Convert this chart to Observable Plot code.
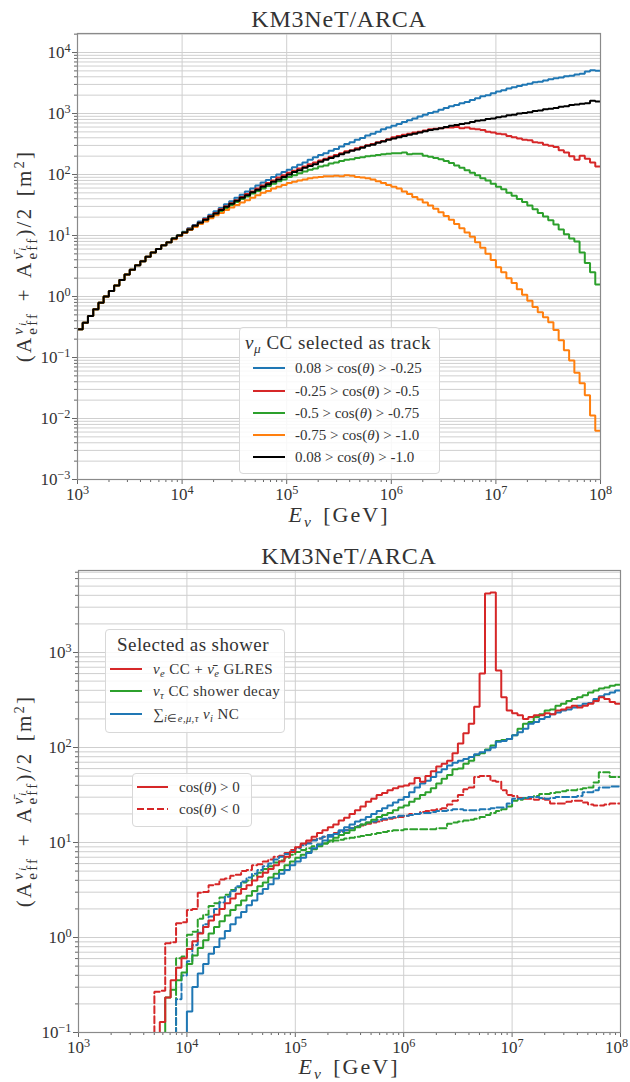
<!DOCTYPE html>
<html><head><meta charset="utf-8">
<script src="https://cdn.jsdelivr.net/npm/d3@7"></script>
<script src="https://cdn.jsdelivr.net/npm/@observablehq/plot@0.6"></script>
<style>
body{margin:0;background:#fff;}
#wrap{position:relative;width:630px;height:1082px;overflow:hidden;font-family:"Liberation Serif",serif;color:#333;}
#wrap svg.panel{position:absolute;left:0;}
#wrap svg.panel text{font-family:"Liberation Serif",serif !important;}
.c{position:absolute;transform:translate(-50%,-50%);white-space:nowrap;}
.l{position:absolute;transform:translateY(-50%);white-space:nowrap;}
.ylab{position:absolute;transform:translate(-50%,-50%) rotate(-90deg);white-space:nowrap;font-size:21px;letter-spacing:2.2px;word-spacing:3px;}
.ss{display:inline-flex;flex-direction:column;font-size:15px;line-height:14px;vertical-align:8px;margin-left:1px;}
sub{font-size:0.7em;vertical-align:-0.3em;line-height:0;}
sup{font-size:0.7em;vertical-align:0.5em;line-height:0;}
.box{position:absolute;background:rgba(255,255,255,0.85);border:1px solid #d8d8d8;border-radius:4px;}
.xl{word-spacing:3px;letter-spacing:2px;}
.tt{letter-spacing:0.8px;}
</style></head>
<body><div id="wrap"></div>
<script>
// ---------------- DATA ----------------
const titleText = "KM3NeT/ARCA";
const xTickExps = [3, 4, 5, 6, 7, 8];
const yTopTickExps = [-3, -2, -1, 0, 1, 2, 3, 4];
const yBotTickExps = [-1, 0, 1, 2, 3];

// Top panel: nu_mu CC selected as track, 20 bins per decade from 1e3 to 1e8 (m^2)
const trackBlue = [0.29,0.37,0.48,0.62,0.79,1.0,1.23,1.51,1.86,2.29,2.75,3.24,3.80,4.47,5.25,6.03,6.92,7.76,8.91,10.0,
11.5,13.2,14.8,17.0,19.1,21.9,25.1,28.2,32.4,36.3,41.7,46.8,52.5,58.9,66.1,74.1,81.3,91.2,100,110,
120,132,145,158,174,191,209,224,245,263,288,316,339,372,398,437,468,501,550,589,
631,676,724,776,832,891,955,1020,1070,1150,1230,1320,1380,1480,1550,1660,1780,1910,2000,2140,
2290,2400,2570,2690,2820,2950,3090,3240,3310,3470,3630,3800,3890,4070,4170,4370,4470,4900,5130,5010];
const trackRed = [0.29,0.37,0.48,0.62,0.79,1.0,1.23,1.51,1.86,2.29,2.75,3.24,3.80,4.47,5.25,6.03,6.92,7.76,8.91,10.0,
11.2,12.9,14.5,16.2,18.6,20.9,23.4,26.9,30.2,33.9,38.0,42.7,47.9,52.5,58.9,66.1,72.4,79.4,89.1,97.7,
107,115,126,135,148,158,170,182,195,209,224,240,251,269,282,302,316,339,355,380,
407,427,447,468,490,501,525,550,562,575,589,589,603,575,589,562,550,537,501,490,
468,457,427,407,389,372,363,339,331,309,295,282,251,229,200,174,204,182,158,135];
const trackGreen = [0.29,0.37,0.48,0.62,0.79,1.0,1.23,1.51,1.86,2.29,2.75,3.24,3.80,4.47,5.25,6.03,6.92,7.76,8.91,10.0,
11.2,12.6,14.1,15.8,17.8,20.0,22.4,25.1,28.2,31.6,35.5,39.8,43.7,49.0,53.7,58.9,64.6,70.8,77.6,83.2,
91.2,97.7,105,112,120,126,135,141,151,158,166,174,178,186,191,200,204,209,214,219,
224,224,229,214,219,219,204,195,186,178,166,155,141,129,117,107,97.7,87.1,79.4,70.8,
63.1,57.5,50.1,44.7,39.8,35.5,30.9,26.9,23.4,20.4,17.8,15.1,12.6,10.5,8.91,7.94,5.25,3.55,2.51,1.58];
const trackOrange = [0.29,0.37,0.48,0.62,0.79,1.0,1.23,1.51,1.86,2.29,2.75,3.24,3.80,4.47,5.25,6.03,6.92,7.76,8.71,9.8,
11.0,12.3,13.8,15.5,17.0,19.1,21.4,23.4,26.3,28.8,31.6,34.7,38.0,41.7,45.7,50.1,53.7,58.9,63.1,67.6,
72.4,75.9,79.4,83.2,87.1,89.1,91.2,93.3,93.3,95.5,93.3,97.7,95.5,91.2,89.1,87.1,83.2,77.6,72.4,67.6,
63.1,58.9,52.5,47.9,42.7,38.9,34.7,30.9,27.5,24.0,20.9,18.2,15.5,13.2,11.2,9.55,7.76,6.31,5.01,3.98,
3.02,2.51,2.0,1.66,1.32,1.07,0.851,0.676,0.550,0.457,0.380,0.282,0.191,0.132,0.0891,0.0562,0.0380,0.0240,0.0112,0.0063];
const trackBlack = [0.29,0.37,0.48,0.62,0.79,1.0,1.23,1.51,1.86,2.29,2.75,3.24,3.80,4.47,5.25,6.03,6.92,7.76,8.91,10.0,
11.2,12.6,14.5,16.2,18.2,20.4,22.9,26.3,29.5,33.1,37.2,41.7,45.7,51.3,56.2,63.1,69.2,75.9,83.2,91.2,
100,110,117,129,138,148,162,174,186,200,214,229,245,257,275,295,309,331,347,372,
389,407,427,447,468,490,513,537,550,575,603,631,646,676,692,724,759,776,813,832,
871,891,933,955,1000,1020,1050,1100,1120,1170,1200,1230,1290,1320,1380,1410,1450,1480,1620,1580];

// Bottom panel: selected as shower (null = empty bin)
const nueUp = [null,null,null,null,null,null,null,null,null,null,null,null,null,null,null,
0.129,0.234,0.355,0.479,0.603,0.759,0.912,1.10,1.29,1.51,
1.74,2.00,2.29,2.57,2.88,3.24,3.55,3.98,4.37,4.79,
5.25,5.75,6.31,7.08,7.94,8.91,9.77,10.5,11.5,12.6,
13.5,14.5,15.5,17.0,18.2,20.0,21.9,24.0,26.9,28.8,
31.6,33.1,35.5,37.2,38.9,39.8,41.7,47.9,43.7,50.1,
56.2,63.1,67.6,72.4,87.1,110,141,178,269,603,
4170,4270,646,339,245,229,219,200,209,219,
219,229,224,245,251,263,275,263,275,288,
309,339,324,302,288];
const nutauUp = [null,null,null,null,null,null,null,null,null,null,null,null,null,null,null,null,
0.234,0.282,0.355,0.427,0.525,0.646,0.776,0.933,1.10,1.29,
1.48,1.70,1.95,2.19,2.45,2.75,3.09,3.47,3.80,4.27,
4.68,5.13,5.75,6.31,6.92,7.41,7.94,8.51,9.12,9.77,
10.5,11.2,12.0,12.6,13.5,14.5,15.5,16.2,17.4,18.6,
19.5,20.4,21.9,23.4,24.5,26.9,28.8,31.6,33.9,37.2,
41.7,46.8,51.3,58.9,60.3,67.6,72.4,83.2,87.1,95.5,
105,117,120,123,135,158,178,186,209,224,
245,251,275,288,309,324,339,355,380,398,
417,427,447,457];
const ncUp = [null,null,null,null,null,null,null,null,null,null,null,null,null,null,null,null,null,null,null,null,
0.166,0.302,0.417,0.525,0.676,0.794,0.977,1.17,1.38,1.62,
1.86,2.19,2.45,2.88,3.24,3.63,4.17,4.68,5.13,5.75,
6.31,6.92,7.76,8.71,9.55,10.5,11.5,12.3,13.5,14.5,
15.5,16.6,17.4,18.6,20.0,21.4,22.9,24.5,26.3,28.2,
30.2,33.9,38.0,41.7,44.7,49.0,55.0,58.9,64.6,69.2,
72.4,75.9,79.4,85.1,89.1,93.3,100,115,117,123,
135,145,158,178,186,200,209,224,234,245,
251,263,275,288,295,324,347,363,380,398];
const nueDown = [null,null,null,null,null,null,null,null,null,null,null,null,null,null,
0.269,0.275,0.871,0.891,1.41,1.45,1.95,2.00,2.95,3.02,
3.55,3.63,4.07,4.17,4.47,4.57,5.01,5.13,5.75,5.89,
6.31,6.61,7.08,7.24,7.76,8.32,8.91,9.55,10.0,10.7,
11.0,11.5,12.0,12.6,13.2,13.5,14.1,14.8,15.1,15.8,
16.2,16.6,17.4,17.8,18.2,18.6,19.1,20.0,20.0,20.9,
21.4,21.9,22.4,22.9,25.1,27.5,31.6,36.3,38.0,49.0,
50.1,50.1,44.7,43.7,35.5,31.6,30.9,29.5,28.8,28.8,
28.2,28.8,28.2,25.7,25.7,25.7,26.9,27.5,27.5,26.3,
25.1,24.5,24.5,25.1,25.7,25.7];
const nutauDown = [null,null,null,null,null,null,null,null,null,null,null,null,null,null,null,null,null,null,
0.603,0.631,1.07,1.15,1.58,1.74,2.14,2.29,2.63,2.82,
3.16,3.39,3.80,3.98,4.47,4.79,5.25,5.62,6.17,6.46,
6.92,7.41,7.94,8.32,8.71,9.12,9.55,9.77,10.2,10.5,
10.7,11.0,11.2,11.5,11.7,12.0,12.3,12.6,12.9,13.2,
13.5,13.5,13.8,13.8,13.8,13.8,13.8,13.8,14.1,14.1,
15.8,16.2,16.6,17.0,17.4,17.8,18.6,19.5,20.4,21.4,
22.4,24.0,27.5,28.2,29.5,30.2,30.9,32.4,32.4,33.1,
33.9,34.7,35.5,35.5,36.3,37.2,38.0,42.7,55.0,55.0,
49.0,49.0];
const ncDown = [null,null,null,null,null,null,null,null,null,null,null,null,null,null,null,null,null,null,
0.224,0.398,0.562,0.832,1.12,1.38,1.66,2.00,2.34,2.69,
3.09,3.47,3.89,4.27,4.68,5.13,5.62,6.03,6.61,7.08,
7.59,8.13,8.71,9.33,9.77,10.5,11.0,11.5,12.0,12.3,
12.9,13.5,14.1,14.8,15.5,16.2,16.6,17.4,17.8,18.2,
18.6,19.1,19.1,19.5,20.0,20.4,20.4,20.9,21.4,21.4,
21.9,22.4,22.4,21.9,21.9,21.9,22.4,22.4,22.9,23.4,
23.4,25.7,28.8,28.8,29.5,30.2,30.2,29.5,28.8,29.5,
30.2,30.2,30.2,30.2,30.9,33.9,33.9,35.5,38.0,38.0,
38.9,38.9];

const trackLegendTitle = '<i>ν</i><sub><i>μ</i></sub> CC selected as track';
const trackLabels = ['0.08 &gt; cos(<i>θ</i>) &gt; -0.25','-0.25 &gt; cos(<i>θ</i>) &gt; -0.5','-0.5 &gt; cos(<i>θ</i>) &gt; -0.75','-0.75 &gt; cos(<i>θ</i>) &gt; -1.0','0.08 &gt; cos(<i>θ</i>) &gt; -1.0'];
const showerLegendTitle = 'Selected as shower';
const showerLabels = ['<i>ν</i><sub><i>e</i></sub> CC + <i>ν̄</i><sub><i>e</i></sub> GLRES','<i>ν</i><sub><i>τ</i></sub> CC shower decay','∑<sub><i>i</i>∈<i>e</i>,<i>μ</i>,<i>τ</i></sub> <i>ν</i><sub><i>i</i></sub> NC'];
const dirLabels = ['cos(<i>θ</i>) &gt; 0','cos(<i>θ</i>) &lt; 0'];

(function () {
// ---------------- STYLE ----------------
const C = {blue:"#1f77b4", red:"#d62728", green:"#2ca02c", orange:"#ff7f0e", black:"#000000"};
const LOG_E_MIN = 3, BINS_PER_DECADE = 20, N_BINS = 100;
const edges = d3.range(N_BINS + 1).map(k => 10 ** (LOG_E_MIN + k / BINS_PER_DECADE));
const FLOOR = 1e-6;
const SERIF = '"Liberation Serif", serif';

[trackBlue,trackRed,trackGreen,trackOrange,trackBlack,nueUp,nutauUp,ncUp,nueDown,nutauDown,ncDown].forEach((a,i)=>{
  if (a.length !== N_BINS) throw new Error("series " + i + " has length " + a.length);
});

function stepPoints(values) {
  const pts = values.map((v, k) => ({x: edges[k], y: v == null ? FLOOR : v}));
  pts.push({x: edges[N_BINS], y: values[N_BINS - 1] == null ? FLOOR : values[N_BINS - 1]});
  return pts;
}
const fmtPow = e => "10^" + String(e).replace("-", "\u2212");
const xMajor = xTickExps.map(e => 10 ** e);
const xMinor = [];
for (const e of xTickExps.slice(0, -1)) for (let m = 2; m <= 9; m++) xMinor.push(m * 10 ** e);
function yMinorTicks(exps, topV) {
  const out = [];
  for (const e of exps) for (let m = 2; m <= 9; m++) { const v = m * 10 ** e; if (v < topV * 0.98) out.push(v); }
  return out;
}

function panel({height, mt, mb, ml, mr, yDomain, yExps, lines, lastXShift}) {
  const yMajor = yExps.map(e => 10 ** e);
  const yMinor = yMinorTicks(yExps, yDomain[1]);
  const grid = "#cfcfcf";
  const svg = Plot.plot({
    width: 630, height, marginTop: mt, marginBottom: mb, marginLeft: ml, marginRight: mr,
    x: {type: "log", domain: [1e3, 1e8]},
    y: {type: "log", domain: yDomain},
    style: {fontFamily: SERIF, fontSize: "17px", color: "#333", background: "transparent", overflow: "visible"},
    marks: [
      Plot.gridY(yMinor, {stroke: grid, strokeOpacity: 1, strokeWidth: 1}),
      Plot.gridY(yMajor, {stroke: grid, strokeOpacity: 1, strokeWidth: 1}),
      Plot.gridX(xMajor, {stroke: grid, strokeOpacity: 1, strokeWidth: 1}),
      ...lines.map(s => Plot.line(stepPoints(s.values), {x: "x", y: "y", curve: "step-after", stroke: s.color, strokeWidth: 2, strokeDasharray: s.dash ? "7,3" : null, strokeLinejoin: "miter", clip: true})),
      Plot.axisX(xMinor, {tickSize: 3, tickFormat: () => "", label: null, stroke: "#666"}),
      Plot.axisX(xMajor, {tickSize: 5, tickPadding: 3, tickFormat: v => fmtPow(Math.round(Math.log10(v))), label: null, stroke: "#666", fontFamily: SERIF, fontSize: 17}),
      Plot.axisY(yMinor, {tickSize: 3, tickFormat: () => "", label: null, stroke: "#666"}),
      Plot.axisY(yMajor, {tickSize: 5, tickPadding: 2, tickFormat: v => fmtPow(Math.round(Math.log10(v))), label: null, stroke: "#666", fontFamily: SERIF, fontSize: 17}),
      Plot.frame({stroke: "#8a8a8a", strokeWidth: 1.2})
    ]
  });
  svg.classList.add("panel");
  const ns = "http://www.w3.org/2000/svg";
  svg.querySelectorAll("text").forEach(t => {
    t.setAttribute("font-family", SERIF);
    t.style.fontFamily = SERIF;
    const s = t.textContent;
    if (!s.includes("^")) return;
    const [b, e] = s.split("^");
    t.textContent = b;
    const ts = document.createElementNS(ns, "tspan");
    ts.setAttribute("dy", "-0.45em");
    ts.setAttribute("font-size", "0.72em");
    ts.textContent = e;
    t.appendChild(ts);
    if (lastXShift && s === fmtPow(xTickExps[xTickExps.length - 1])) t.setAttribute("dx", String(-lastXShift));
  });
  return svg;
}

const wrap = document.getElementById("wrap");
const topSvg = panel({height: 530, mt: 33, mb: 51, ml: 77, mr: 30, yDomain: [1e-3, 2.05e4], yExps: yTopTickExps,
  lines: [{values: trackBlue, color: C.blue}, {values: trackRed, color: C.red}, {values: trackGreen, color: C.green},
          {values: trackOrange, color: C.orange}, {values: trackBlack, color: C.black}]});
topSvg.style.top = "0px";
wrap.appendChild(topSvg);

const botSvg = panel({height: 542, mt: 30, mb: 50, ml: 78, mr: 10, yDomain: [0.1, 7300], yExps: yBotTickExps, lastXShift: 4,
  lines: [{values: nueDown, color: C.red, dash: true}, {values: nutauDown, color: C.green, dash: true}, {values: ncDown, color: C.blue, dash: true},
          {values: nutauUp, color: C.green}, {values: ncUp, color: C.blue}, {values: nueUp, color: C.red}]});
botSvg.style.top = "540px";
wrap.appendChild(botSvg);

// ---------------- TEXT OVERLAYS ----------------
function el(cls, html, css) {
  const d = document.createElement("div");
  d.className = cls; d.innerHTML = html; Object.assign(d.style, css); wrap.appendChild(d); return d;
}
const yLabelHTML = '(A<span class="ss"><span><i>ν</i><sub><i>i</i></sub></span><span>eff</span></span> + A<span class="ss"><span><i>ν̄</i><sub><i>i</i></sub></span><span>eff</span></span>)/2 [m<sup>2</sup>]';
const xLabelHTML = '<i>E</i><sub><i>ν</i></sub> [GeV]';

el("c tt", titleText, {left: "339px", top: "19px", fontSize: "24px"});
el("c tt", titleText, {left: "349px", top: "556px", fontSize: "24px"});
el("ylab", yLabelHTML, {left: "25px", top: "256px"});
el("ylab", yLabelHTML, {left: "25px", top: "801px"});
el("c xl", xLabelHTML, {left: "339px", top: "515px", fontSize: "22px"});
el("c xl", xLabelHTML, {left: "349px", top: "1067px", fontSize: "22px"});

function swatch(x1, x2, y, color, dash) {
  const s = document.createElementNS("http://www.w3.org/2000/svg", "svg");
  s.setAttribute("width", x2 - x1); s.setAttribute("height", 6);
  Object.assign(s.style, {position: "absolute", left: x1 + "px", top: (y - 3) + "px"});
  s.innerHTML = `<line x1="0" x2="${x2 - x1}" y1="3" y2="3" stroke="${color}" stroke-width="2" ${dash ? 'stroke-dasharray="7,3"' : ''}/>`;
  wrap.appendChild(s);
}

// top legend
el("box", "", {left: "239px", top: "327px", width: "199px", height: "145px"});
el("c", trackLegendTitle, {left: "338px", top: "343px", fontSize: "19px", letterSpacing: "0.5px"});
const trackColors = [C.blue, C.red, C.green, C.orange, C.black];
const trackRowY = [368, 391, 413, 435, 457];
trackLabels.forEach((lab, i) => {
  swatch(253, 285, trackRowY[i], trackColors[i], false);
  el("l", lab, {left: "295px", top: trackRowY[i] + "px", fontSize: "15px"});
});

// bottom legend 1
el("box", "", {left: "105px", top: "629px", width: "178px", height: "102px"});
el("c", showerLegendTitle, {left: "193px", top: "645px", fontSize: "19px", letterSpacing: "0.4px"});
const showerColors = [C.red, C.green, C.blue];
const showerRowY = [669, 691, 714];
showerLabels.forEach((lab, i) => {
  swatch(110, 142, showerRowY[i], showerColors[i], false);
  el("l", lab, {left: "153px", top: showerRowY[i] + "px", fontSize: "15px", letterSpacing: "0.4px"});
});

// bottom legend 2
el("box", "", {left: "132px", top: "773px", width: "118px", height: "52px"});
const dirRowY = [787, 809];
dirLabels.forEach((lab, i) => {
  swatch(137, 168, dirRowY[i], C.red, i === 1);
  el("l", lab, {left: "179px", top: dirRowY[i] + "px", fontSize: "15px"});
});
})();
</script>
</body></html>
